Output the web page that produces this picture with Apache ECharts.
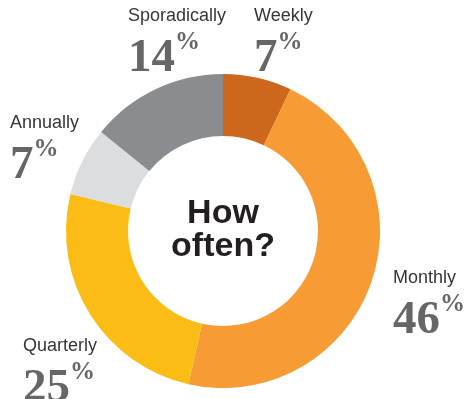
<!DOCTYPE html>
<html>
<head>
<meta charset="utf-8">
<script src="https://cdn.jsdelivr.net/npm/echarts@6/dist/echarts.min.js"></script>
<style>
  html, body { margin: 0; padding: 0; background: #ffffff; }
  #chart { width: 474px; height: 399px; }
</style>
</head>
<body>
<div id="chart"></div>
<script>
// Survey answers: how often it happens
const categories = ['Weekly', 'Monthly', 'Quarterly', 'Annually', 'Sporadically'];
const shares = [7, 46, 25, 7, 14];
const sliceColors = ['#cc671c', '#f79b35', '#fbbd15', '#dcdddf', '#8b8c8f'];

// Top-left corner of each label block (name line + percentage line)
const labelAnchors = [
  [254, 6],
  [393, 268],
  [23, 336],
  [10, 113],
  [128, 6]
];

const chart = echarts.init(document.getElementById('chart'), null, { renderer: 'canvas' });

chart.setOption({
  animation: false,
  backgroundColor: '#ffffff',
  graphic: [{
    type: 'text',
    z: 100,
    style: {
      text: 'How\noften?',
      x: 223,
      y: 230,
      align: 'center',
      verticalAlign: 'middle',
      font: 'bold 34px "Liberation Sans", Arial, sans-serif',
      lineHeight: 33,
      fill: '#231f20'
    }
  }],
  series: [{
    type: 'pie',
    center: [223, 231],
    radius: [95, 157],
    startAngle: 90,
    clockwise: true,
    avoidLabelOverlap: false,
    itemStyle: { borderWidth: 0 },
    emphasis: { disabled: true },
    labelLine: { show: false },
    data: categories.map((name, i) => ({
      name: name,
      value: shares[i],
      itemStyle: { color: sliceColors[i] }
    })),
    label: {
      show: true,
      position: 'outside',
      formatter: (p) => '{name|' + p.name + '}\n{pct|' + p.value + '}{sup|%}',
      rich: {
        name: {
          fontFamily: '"Liberation Sans", Arial, sans-serif',
          fontSize: 18,
          lineHeight: 20,
          color: '#363636'
        },
        pct: {
          fontFamily: '"Liberation Serif", "Times New Roman", serif',
          fontWeight: 'bold',
          fontSize: 47,
          lineHeight: 66,
          color: '#666666'
        },
        sup: {
          fontFamily: '"Liberation Serif", "Times New Roman", serif',
          fontWeight: 'bold',
          fontSize: 25,
          lineHeight: 26,
          verticalAlign: 'top',
          padding: [4, 0, 0, 0],
          color: '#666666'
        }
      }
    },
    labelLayout: (params) => ({
      x: labelAnchors[params.dataIndex][0],
      y: labelAnchors[params.dataIndex][1],
      align: 'left',
      verticalAlign: 'top',
      hideOverlap: false,
      moveOverlap: null
    })
  }]
});
</script>
</body>
</html>
